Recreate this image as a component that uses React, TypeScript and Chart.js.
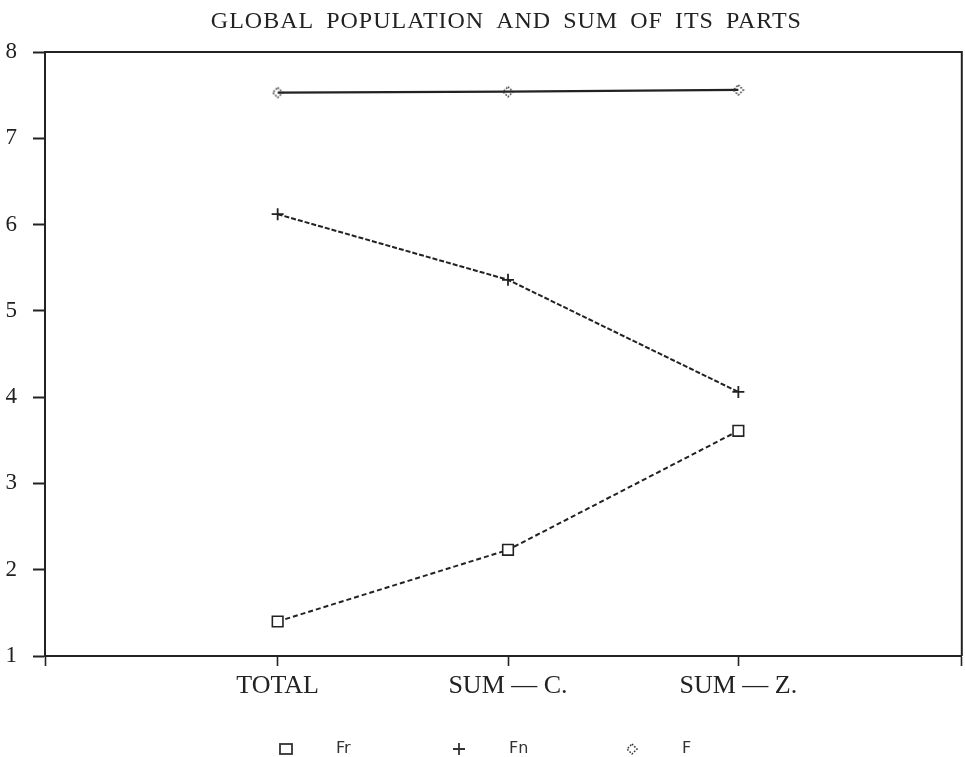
import { useEffect, useRef } from 'react';
import { Chart, registerables } from 'chart.js';

Chart.register(...registerables);

const titleText = 'GLOBAL POPULATION AND SUM OF ITS PARTS';
const categories = ['TOTAL', 'SUM — C.', 'SUM — Z.'];
const categoryPositions = [1, 2, 3];
const seriesNames = ['Fr', 'Fn', 'F'];
const frValues = [1.4, 2.23, 3.61];
const fnValues = [6.12, 5.36, 4.06];
const fValues = [7.53, 7.54, 7.56];
const yTicks = [1, 2, 3, 4, 5, 6, 7, 8];

const INK = '#222';

function makeDiamond(): HTMLCanvasElement {
  const c = document.createElement('canvas');
  c.width = 14;
  c.height = 14;
  const g = c.getContext('2d')!;
  g.strokeStyle = '#333';
  g.lineWidth = 1.5;
  g.setLineDash([1.6, 1.6]);
  g.beginPath();
  g.moveTo(7, 2);
  g.lineTo(12, 7);
  g.lineTo(7, 12);
  g.lineTo(2, 7);
  g.closePath();
  g.stroke();
  return c;
}

export default function App() {
  const ref = useRef<HTMLCanvasElement | null>(null);

  useEffect(() => {
    document.body.style.margin = '0';
    document.body.style.overflow = 'hidden';
    const canvas = ref.current;
    if (!canvas) return;
    const diamond = makeDiamond();

    const toPts = (vals: number[]) => vals.map((v, i) => ({ x: categoryPositions[i], y: v }));

    const decor = {
      id: 'decor',
      afterDraw(chart: any) {
        const { ctx, chartArea: a } = chart;
        ctx.save();
        // frame: top and right
        ctx.strokeStyle = INK;
        ctx.lineWidth = 2;
        ctx.beginPath();
        ctx.moveTo(a.left, a.top);
        ctx.lineTo(a.right, a.top);
        ctx.lineTo(a.right, a.bottom);
        ctx.stroke();

        // title
        ctx.fillStyle = INK;
        ctx.font = '24px "Liberation Serif"';
        ctx.textAlign = 'center';
        ctx.textBaseline = 'alphabetic';
        try {
          ctx.letterSpacing = '1px';
          ctx.wordSpacing = '5px';
        } catch (e) {}
        ctx.fillText(titleText, (a.left + a.right) / 2 + 3, 28);
        try {
          ctx.letterSpacing = '0px';
          ctx.wordSpacing = '0px';
        } catch (e) {}

        // legend
        const ly = 749;
        ctx.font = '16px "DejaVu Sans"';
        ctx.textAlign = 'left';
        ctx.textBaseline = 'middle';
        seriesNames.forEach((name, i) => {
          const mx = a.left + 241 + i * 173;
          ctx.strokeStyle = '#333';
          ctx.lineWidth = 1.8;
          ctx.setLineDash([]);
          if (i === 0) {
            ctx.strokeRect(mx - 6, ly - 5, 12, 10);
          } else if (i === 1) {
            ctx.beginPath();
            ctx.moveTo(mx - 6, ly);
            ctx.lineTo(mx + 6, ly);
            ctx.moveTo(mx, ly - 6);
            ctx.lineTo(mx, ly + 6);
            ctx.stroke();
          } else {
            ctx.drawImage(diamond, mx - 7, ly - 7);
          }
          ctx.fillStyle = '#333';
          ctx.fillText(name, mx + 50, ly);
        });
        ctx.restore();
      },
    };

    const chart = new Chart(canvas, {
      type: 'line',
      data: {
        datasets: [
          {
            label: seriesNames[0],
            data: toPts(frValues),
            borderColor: INK,
            borderWidth: 2,
            borderDash: [5, 3],
            pointStyle: 'rect',
            pointRadius: 7.5,
            pointBorderWidth: 1.6,
            pointBorderColor: INK,
            pointBackgroundColor: '#fff',
            fill: false,
          },
          {
            label: seriesNames[1],
            data: toPts(fnValues),
            borderColor: INK,
            borderWidth: 2,
            borderDash: [5, 2],
            pointStyle: 'cross',
            pointRadius: 6,
            pointBorderWidth: 1.8,
            pointBorderColor: INK,
            fill: false,
          },
          {
            label: seriesNames[2],
            data: toPts(fValues),
            borderColor: INK,
            borderWidth: 2.2,
            pointStyle: diamond as any,
            pointRadius: 7,
            fill: false,
          },
        ],
      },
      options: {
        animation: false,
        responsive: true,
        maintainAspectRatio: false,
        layout: { padding: { top: 52, right: 0, bottom: 56, left: 0 } },
        plugins: {
          legend: { display: false },
          title: { display: false },
          tooltip: { enabled: false },
        },
        scales: {
          x: {
            type: 'linear',
            min: -0.01,
            max: 3.97,
            afterBuildTicks: (s: any) => {
              s.ticks = [s.min, ...categoryPositions, s.max].map((v) => ({ value: v }));
            },
            afterFit: (s: any) => {
              s.height = 45;
              s.paddingLeft = 0;
              s.paddingRight = 0;
            },
            ticks: {
              autoSkip: false,
              maxRotation: 0,
              padding: 5,
              color: INK,
              font: { family: '"Liberation Serif"', size: 26 },
              callback: (v: any) => {
                const i = categoryPositions.indexOf(Number(v));
                return i >= 0 ? categories[i] : '';
              },
            },
            grid: {
              drawOnChartArea: false,
              drawTicks: true,
              tickLength: 10,
              tickWidth: 1.6,
              tickColor: INK,
            },
            border: { display: true, color: INK, width: 2 },
          },
          y: {
            type: 'linear',
            min: 1,
            max: 8,
            afterBuildTicks: (s: any) => {
              s.ticks = yTicks.map((v) => ({ value: v }));
            },
            afterFit: (s: any) => {
              s.width = 45;
            },
            ticks: {
              padding: 16,
              color: INK,
              font: { family: '"Liberation Serif"', size: 23 },
            },
            grid: {
              drawOnChartArea: false,
              drawTicks: true,
              tickLength: 12,
              tickWidth: 2,
              tickColor: INK,
            },
            border: { display: true, color: INK, width: 2 },
          },
        },
      },
      plugins: [decor],
    });

    return () => chart.destroy();
  }, []);

  return (
    <div style={{ width: 965, height: 757, overflow: 'hidden', background: '#fff' }}>
      <div style={{ width: 971, height: 757, position: 'relative' }}>
        <canvas ref={ref} />
      </div>
    </div>
  );
}
